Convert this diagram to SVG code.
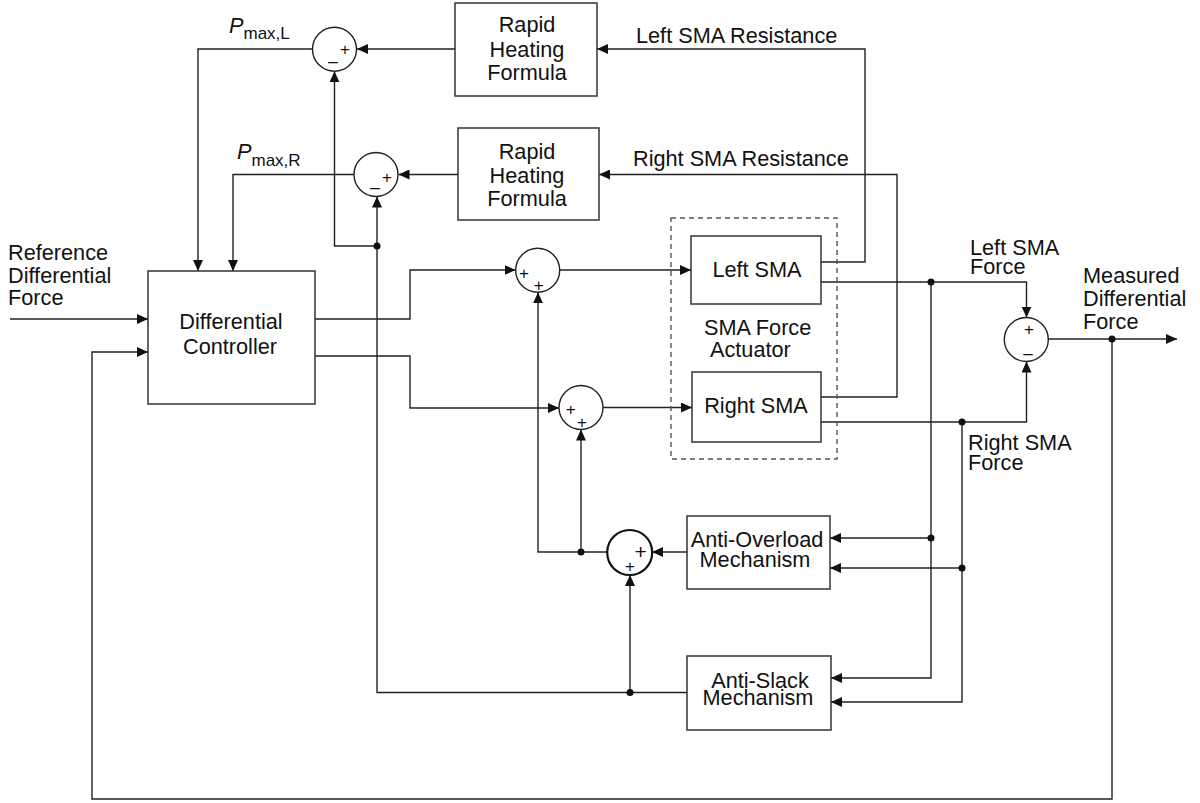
<svg xmlns="http://www.w3.org/2000/svg" width="1200" height="803" viewBox="0 0 1200 803">
<defs>
<marker id="arr" markerUnits="userSpaceOnUse" markerWidth="11" markerHeight="10" refX="11" refY="5" orient="auto">
<path d="M0,0 L11,5 L0,10 z" fill="#111"/>
</marker>
<style>
.box{fill:#fff;stroke:#333;stroke-width:1.5}
.dash{fill:none;stroke:#555;stroke-width:1.4;stroke-dasharray:5,4}
.sum{fill:#fff;stroke:#222;stroke-width:1.4}
.sum3{fill:#fff;stroke:#111;stroke-width:2.2}
.w{fill:none;stroke:#222;stroke-width:1.4}
.wa{fill:none;stroke:#222;stroke-width:1.4;marker-end:url(#arr)}
.dot{fill:#111}
text{font-family:"Liberation Sans",Arial,Helvetica,sans-serif;font-size:21.7px;fill:#111}
.c{text-anchor:middle}
.pl{font-size:17px;text-anchor:middle}
.plb{font-size:21px;text-anchor:middle}
.it{font-style:italic;font-size:21.7px}
.sub{font-size:17px}
</style>
</defs>
<rect width="1200" height="803" fill="#fff"/>

<g id="connectors">
<path class="wa" d="M10,319 H148"/>
<path class="wa" d="M1112,339 V799 H92 V352 H148"/>
<path class="wa" d="M312.5,49 H198 V271"/>
<path class="wa" d="M354,174.5 H233 V271"/>
<path class="wa" d="M455,49 H357"/>
<path class="wa" d="M458,174.5 H398.5"/>
<path class="wa" d="M821,262 H865 V49 H597"/>
<path class="wa" d="M821,397 H897 V174.5 H599"/>
<path class="wa" d="M315,319 H410 V270 H515.5"/>
<path class="wa" d="M315,356 H410 V408 H559"/>
<path class="wa" d="M560,270 H691"/>
<path class="wa" d="M603,407.5 H692"/>
<path class="wa" d="M821,282 H1026.5 V317.5"/>
<path class="wa" d="M821,422 H1026.5 V361.5"/>
<path class="wa" d="M1048,339 H1177"/>
<path class="wa" d="M931,282 V678 H831"/>
<path class="wa" d="M931,538 H830"/>
<path class="wa" d="M962,422 V702 H831"/>
<path class="wa" d="M962,568 H830"/>
<path class="wa" d="M687,552 H652"/>
<path class="wa" d="M607.5,552 H538 V292.3"/>
<path class="wa" d="M581,552 V429.5"/>
<path class="wa" d="M687,692.5 H377 V196.5"/>
<path class="wa" d="M630,692.5 V575"/>
<path class="wa" d="M377,246 H334.5 V71.3"/>
<circle class="dot" cx="1112" cy="339" r="3.5"/>
<circle class="dot" cx="931" cy="282" r="3.5"/>
<circle class="dot" cx="962" cy="422" r="3.5"/>
<circle class="dot" cx="931" cy="538" r="3.5"/>
<circle class="dot" cx="962" cy="568" r="3.5"/>
<circle class="dot" cx="581" cy="552" r="3.5"/>
<circle class="dot" cx="630" cy="692.5" r="3.5"/>
<circle class="dot" cx="377" cy="246" r="3.5"/>
</g>

<g id="labels">
<text x="8" y="260">Reference</text>
<text x="8" y="283">Differential</text>
<text x="8" y="305">Force</text>
<text x="229" y="33"><tspan class="it">P</tspan><tspan class="sub" dy="6">max,L</tspan></text>
<text x="237" y="159"><tspan class="it">P</tspan><tspan class="sub" dy="7">max,R</tspan></text>
<text x="636" y="43">Left SMA Resistance</text>
<text x="633" y="166">Right SMA Resistance</text>
<text x="970" y="255">Left SMA</text>
<text x="970" y="274">Force</text>
<text x="968" y="450">Right SMA</text>
<text x="968" y="470">Force</text>
<text x="1083" y="283">Measured</text>
<text x="1083" y="306">Differential</text>
<text x="1083" y="329">Force</text>
</g>

<g id="actuator">
<rect class="dash" x="671" y="218" width="166" height="241"/>
<text x="704" y="335">SMA Force</text>
<text x="710" y="357">Actuator</text>
</g>

<g id="controller">
<rect class="box" x="148" y="271" width="167" height="133"/>
<text class="c" x="231" y="329">Differential</text>
<text class="c" x="230" y="354">Controller</text>
</g>

<g id="rhf-left">
<rect class="box" x="455" y="3" width="142" height="93"/>
<text class="c" x="527" y="32">Rapid</text>
<text class="c" x="527" y="57">Heating</text>
<text class="c" x="527" y="80">Formula</text>
</g>

<g id="rhf-right">
<rect class="box" x="458" y="128" width="141" height="92"/>
<text class="c" x="527" y="159">Rapid</text>
<text class="c" x="527" y="183">Heating</text>
<text class="c" x="527" y="206">Formula</text>
</g>

<g id="left-sma">
<rect class="box" x="691" y="236" width="130" height="68"/>
<text class="c" x="757" y="277">Left SMA</text>
</g>

<g id="right-sma">
<rect class="box" x="692" y="372" width="129" height="70"/>
<text class="c" x="756" y="413">Right SMA</text>
</g>

<g id="anti-overload">
<rect class="box" x="687" y="516" width="143" height="73"/>
<text class="c" x="757" y="547">Anti-Overload</text>
<text class="c" x="755" y="567">Mechanism</text>
</g>

<g id="anti-slack">
<rect class="box" x="687" y="656" width="144" height="74"/>
<text class="c" x="760" y="688">Anti-Slack</text>
<text class="c" x="758" y="705">Mechanism</text>
</g>

<g id="sum-l">
<circle class="sum" cx="334.5" cy="49.3" r="22"/>
<text class="pl" x="345" y="55">+</text>
<text class="pl" x="333" y="60">_</text>
</g>

<g id="sum-r">
<circle class="sum" cx="376" cy="174.5" r="22"/>
<text class="pl" x="387" y="182.5">+</text>
<text class="pl" x="375" y="186">_</text>
</g>

<g id="sum-1">
<circle class="sum" cx="537.7" cy="270.3" r="22"/>
<text class="pl" x="524" y="279">+</text>
<text class="pl" x="538.6" y="291">+</text>
</g>

<g id="sum-2">
<circle class="sum" cx="581" cy="407.5" r="22"/>
<text class="pl" x="570.7" y="415">+</text>
<text class="pl" x="582" y="427.5">+</text>
</g>

<g id="sum-3">
<circle class="sum3" cx="629.7" cy="552.5" r="22.5"/>
<text class="plb" x="640.7" y="559">+</text>
<text class="pl" x="630" y="572">+</text>
</g>

<g id="sum-4">
<circle class="sum" cx="1026.3" cy="339.5" r="22"/>
<text class="pl" x="1029" y="334.5">+</text>
<text class="pl" x="1028" y="359">–</text>
</g>
</svg>
